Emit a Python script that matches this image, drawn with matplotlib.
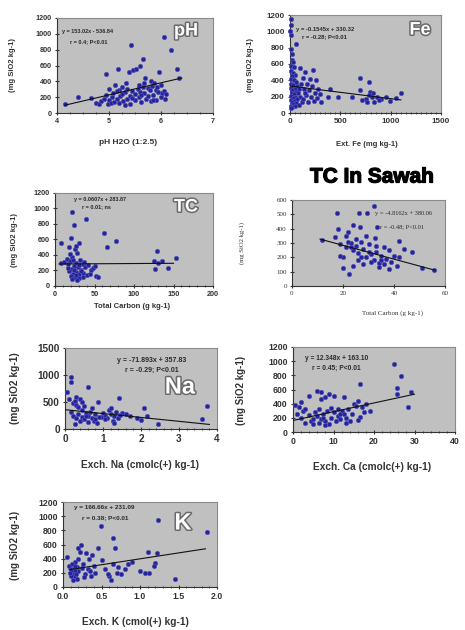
import matplotlib
matplotlib.use("Agg")
import matplotlib.pyplot as plt
import matplotlib.patheffects as pe
from matplotlib.ticker import MultipleLocator

W, H = 465, 630

# ---------------- data ----------------
ph_points = [(4.15,120),(4.4,200),(4.65,195),(4.75,130),(4.8,115),(4.85,150),(4.9,180),(4.95,490),(4.95,230),(4.98,110),
             (5.0,160),(5.0,300),(5.03,130),(5.05,200),(5.08,250),(5.1,140),(5.12,350),(5.15,180),(5.18,550),(5.2,290),
             (5.2,130),(5.22,210),(5.25,330),(5.27,150),(5.3,260),(5.3,100),(5.33,380),(5.35,180),(5.38,520),(5.4,220),
             (5.4,120),(5.42,860),(5.45,280),(5.47,540),(5.5,240),(5.5,160),(5.52,560),(5.55,300),(5.57,200),(5.6,600),
             (5.6,260),(5.62,140),(5.65,680),(5.65,330),(5.68,250),(5.7,440),(5.72,180),(5.75,320),(5.75,210),(5.78,290),
             (5.8,400),(5.8,150),(5.82,340),(5.85,230),(5.87,380),(5.9,170),(5.9,290),(5.95,260),(5.97,520),(6.0,350),
             (6.0,200),(6.02,250),(6.05,960),(6.05,280),(6.08,180),(6.1,240),(6.2,790),(6.3,560),(6.35,440),(5.58,350),
             (5.45,190),(5.25,240),(5.15,280),(5.35,300),(5.68,380),(5.85,170),(5.62,230),(5.92,330)]

fe_points = [(5,1150),(8,1080),(4,1000),(12,950),(60,850),(10,780),(20,720),(15,650),(30,620),(6,580),(40,560),(10,520),
             (25,490),(50,470),(18,450),(8,420),(35,400),(55,380),(12,360),(28,340),(70,330),(5,310),(45,300),(90,290),
             (15,280),(60,260),(20,250),(80,240),(35,230),(10,210),(50,200),(100,190),(25,180),(70,170),(8,160),(40,150),
             (120,140),(15,130),(60,120),(30,110),(85,100),(10,90),(50,80),(20,70),(5,60),(100,550),(150,500),(230,530),
             (130,430),(200,420),(260,400),(110,360),(170,350),(220,330),(280,300),(140,300),(190,280),(250,250),(300,230),
             (160,220),(210,200),(270,180),(130,170),(240,150),(180,140),(310,130),(150,250),(400,300),(480,200),(380,190),
             (620,190),(700,430),(700,280),(720,160),(750,170),(780,380),(790,260),(810,200),(830,140),(860,190),(900,170),
             (950,200),(990,150),(1050,180),(1100,250),(760,130),(780,220),(820,240),(880,160)]

tc_points = [(8,550),(7,300),(21,960),(24,790),(39,860),(62,680),(77,580),(66,500),(20,620),(18,500),(25,480),(30,560),
             (28,420),(22,380),(15,350),(19,320),(26,300),(32,330),(35,280),(16,280),(24,260),(29,240),(21,220),(33,210),
             (38,250),(18,190),(27,180),(23,160),(31,150),(36,170),(20,130),(25,120),(30,100),(22,90),(40,140),(45,200),
             (42,270),(48,230),(35,120),(28,80),(17,230),(23,330),(37,310),(44,160),(52,130),(55,110),(19,410),(27,520),
             (33,190),(26,140),(30,270),(24,210),(129,450),(153,360),(126,220),(143,230),(125,320),(136,320),(130,300),
             (50,260),(12,310)]

sawah_points = [(17.6,509),(32,558),(26.1,509),(29.6,509),(26.5,415),(33.3,415),(18.2,396),(23.9,426),(22,380),(17,345),
                (11.8,321),(41.8,314),(43.8,256),(47,237),(55.5,110),(51,125),(20,125),(22.2,85),(32.5,332),(19,290),
                (21,270),(23,300),(24,250),(25,280),(26,230),(27,310),(28,260),(29,200),(30,290),(31,220),(32,180),
                (33,240),(34,160),(35,210),(36,150),(37,190),(38,250),(39,170),(40,210),(41,140),(20,200),(22,310),
                (24,140),(26,180),(28,150),(30,240),(34,130),(36,270),(38,120),(27,200),(31,170),(25,330),(21,350),
                (19,210),(33,280),(29,350),(23,270),(35,180),(42,200)]

na_points = [(0.17,958),(0.15,870),(0.05,690),(0.6,782),(1.41,567),(2.07,393),(3.74,425),(3.6,185),(2.46,93),(2.16,247),
             (2.0,167),(0.87,506),(0.1,550),(0.2,480),(0.25,520),(0.3,450),(0.35,400),(0.4,560),(0.45,350),(0.5,420),
             (0.55,300),(0.15,320),(0.2,250),(0.3,200),(0.35,280),(0.4,150),(0.45,220),(0.5,180),(0.6,250),(0.65,320),
             (0.7,200),(0.75,150),(0.8,280),(0.85,120),(0.6,130),(0.25,100),(0.7,380),(0.55,240),(1.0,300),(1.05,250),
             (1.1,200),(1.15,350),(1.2,280),(1.25,150),(1.3,250),(1.35,320),(1.4,200),(1.5,300),(1.6,280),(1.7,250),
             (1.05,180),(1.2,380),(0.95,230),(1.3,120),(1.9,200),(0.3,600),(0.45,500),(0.9,220),(1.45,260),(0.8,190)]

ca_points = [(24.9,954),(26.7,790),(25.6,616),(25.7,532),(29.1,568),(28.5,357),(16.5,672),(3.9,511),(6,578),(6.8,560),
             (0.5,380),(1.5,350),(2.5,300),(3,330),(1,250),(2,200),(4,240),(4.5,150),(5,180),(5.5,280),(6,220),(6.5,130),
             (7,190),(7.5,250),(8,160),(8.5,300),(9,120),(9.5,200),(10,280),(10.5,150),(11,230),(11.5,180),(12,300),
             (12.5,260),(13,200),(13.5,320),(14,150),(14.5,260),(15,400),(15.5,370),(16,440),(16.5,210),(17,350),
             (17.5,280),(18,400),(19,300),(8,490),(9,540),(10,510),(7,470),(12.5,490),(3,130),(5,120),(6.5,330),(8,100),
             (11,320),(13,130),(16,170),(9.5,340),(7.5,200),(2,420),(11.5,250)]

k_points = [(0.49,860),(1.24,945),(1.87,780),(0.65,687),(0.68,546),(1.46,108),(1.1,490),(1.22,475),(1.2,338),(1.06,204),
            (1.12,200),(1.18,300),(0.05,420),(0.08,300),(0.1,250),(0.12,200),(0.14,180),(0.15,350),(0.16,150),(0.18,280),
            (0.2,230),(0.22,500),(0.24,600),(0.26,330),(0.28,180),(0.3,480),(0.32,250),(0.34,400),(0.36,150),(0.38,450),
            (0.4,300),(0.42,200),(0.45,550),(0.5,380),(0.55,250),(0.6,150),(0.62,100),(0.65,320),(0.7,200),(0.72,280),
            (0.75,190),(0.8,250),(0.85,320),(0.9,350),(0.1,150),(0.12,330),(0.14,260),(0.16,220),(0.18,120),(0.2,400),
            (0.13,100),(0.17,180),(0.11,230),(0.25,270),(0.15,290),(0.09,200),(0.35,220),(0.27,140),(0.19,550),(1.0,220),
            (0.58,180)]

# regression lines: slope, intercept, x range
ph_fit = (153.02, -536.84, 4.15, 6.4)
fe_fit = (-0.1545, 330.32, 0, 1100)
tc_fit = (0.0607, 283.87, 5, 150)
sawah_fit = (-4.8162, 380.06, 11, 56)
na_fit = (-71.893, 357.83, 0, 3.8)
ca_fit = (12.348, 163.10, 0, 30)
k_fit = (166.66, 231.09, 0.08, 1.85)

ph_eq = ["y = 153.02x - 536.84", "r = 0.4; P<0.01"]
fe_eq = ["y = -0.1545x + 330.32", "r = -0.28; P<0.01"]
tc_eq = ["y = 0.0607x + 283.87", "r = 0.01; ns"]
sawah_eq = ["y = -4.8162x + 380.06", "r = -0.48; P<0.01"]
na_eq = ["y = -71.893x + 357.83", "r = -0.29; P<0.01"]
ca_eq = ["y = 12.348x + 163.10", "r = 0.45; P<0.01"]
k_eq = ["y = 166.66x + 231.09", "r = 0.38; P<0.01"]

ylab = "(mg SiO2 kg-1)"

fig = plt.figure(figsize=(W/100, H/100), dpi=100)
fig.patch.set_facecolor("white")

def px(x, y):
    return x / W, 1 - y / H

def make_ax(x0, y0, x1, y1):
    return fig.add_axes([x0 / W, 1 - y1 / H, (x1 - x0) / W, (y1 - y0) / H])

BG = "#c0c0c0"
PT = "#24249a"
TXT = "#333333"

def panel(ax, pts, fit, xlim, xmaj, xmin, ylim, ymaj, tfs, family="Liberation Sans", weight="bold"):
    ax.set_facecolor(BG)
    xs = [p[0] for p in pts]
    ys = [p[1] for p in pts]
    ax.plot(xs, ys, "o", ms=3.1, mfc=PT, mec="#5050b8", mew=0.5, zorder=3, clip_on=False)
    s, b, xa, xb = fit
    ax.plot([xa, xb], [s * xa + b, s * xb + b], color="#111111", lw=0.8, zorder=4)
    ax.set_xlim(*xlim)
    ax.set_ylim(*ylim)
    ax.xaxis.set_major_locator(MultipleLocator(xmaj))
    if xmin:
        ax.xaxis.set_minor_locator(MultipleLocator(xmin))
    ax.yaxis.set_major_locator(MultipleLocator(ymaj))
    for sp in ax.spines.values():
        sp.set_color("#8a8a8a")
        sp.set_linewidth(0.8)
    ax.spines["left"].set_color("#333333")
    ax.spines["bottom"].set_color("#333333")
    ax.tick_params(axis="both", which="major", direction="inout", length=3.5, width=0.8,
                   labelsize=tfs, colors="#333333", pad=2)
    ax.tick_params(axis="x", which="minor", direction="inout", length=2, width=0.6, colors="#333333")
    for lab in ax.get_xticklabels() + ax.get_yticklabels():
        lab.set_fontfamily(family)
        lab.set_fontweight(weight)
        lab.set_color(TXT)

def eqtext(ax, lines, x, y, fs, dy, ha="left", family="Liberation Sans", weight="bold", x2=None):
    xa, ya = px(x, y)
    fig.text(xa, ya, lines[0], fontsize=fs, ha=ha, va="center", color="#2a2a2a",
             fontfamily=family, fontweight=weight)
    xb = xa if x2 is None else x2 / W
    fig.text(xb, ya - dy / H, lines[1], fontsize=fs, ha=ha, va="center", color="#2a2a2a",
             fontfamily=family, fontweight=weight)

outline = [pe.withStroke(linewidth=2.2, foreground="#6a6a6a")]

def tag(x, y, s, fs, stroke=True):
    xa, ya = px(x, y)
    fig.text(xa, ya, s, fontsize=fs, ha="center", va="center", color="white", fontweight="bold",
             fontfamily="Liberation Sans", path_effects=outline if stroke else None, zorder=10)

def xlabel(x, y, s, fs, family="Liberation Sans", weight="bold"):
    xa, ya = px(x, y)
    fig.text(xa, ya, s, fontsize=fs, ha="center", va="center", color=TXT, fontfamily=family, fontweight=weight)

def ylabel(x, y, s, fs, family="Liberation Sans", weight="bold"):
    xa, ya = px(x, y)
    fig.text(xa, ya, s, fontsize=fs, ha="center", va="center", color=TXT, rotation=90,
             fontfamily=family, fontweight=weight)

# ---- pH ----
ax1 = make_ax(57, 18, 213, 113)
panel(ax1, ph_points, ph_fit, (4, 7), 1, 0.25, (0, 1200), 200, 5.2)
eqtext(ax1, ph_eq, 62, 32, 4.0, 10, x2=70)
tag(186, 31, "pH", 13)
xlabel(128, 143, "pH H2O (1:2.5)", 6)
ylabel(13, 65, ylab, 5.5)

# ---- Fe ----
ax2 = make_ax(290, 15, 441, 113)
panel(ax2, fe_points, fe_fit, (0, 1500), 500, 50, (0, 1200), 200, 5.8)
eqtext(ax2, fe_eq, 296, 29, 4.2, 8, x2=302)
tag(420, 30, "Fe", 13)
xlabel(367, 145, "Ext. Fe (mg kg-1)", 5.5)
ylabel(250, 65, ylab, 5.5)

# ---- TC ----
ax3 = make_ax(55, 193, 213, 286)
panel(ax3, tc_points, tc_fit, (0, 200), 50, 10, (0, 1200), 200, 5.2)
eqtext(ax3, tc_eq, 74, 199, 4.0, 8, x2=82)
tag(186, 207, "TC", 13)
xlabel(132, 306, "Total Carbon (g kg-1)", 5.5)
ylabel(14, 240, ylab, 5.5)

# ---- TC in Sawah ----
fig.text(*px(372, 177), "TC In Sawah", fontsize=15, ha="center", va="center", color="black",
         fontweight="heavy", fontfamily="Liberation Sans",
         path_effects=[pe.Stroke(linewidth=0.9, foreground="black"), pe.Normal()])
ax4 = make_ax(292, 200, 445, 286)
panel(ax4, sawah_points, sawah_fit, (0, 60), 20, 0, (0, 600), 100, 5.0, family="Liberation Serif", weight="normal")
eqtext(ax4, sawah_eq, 375, 213, 4.6, 14, family="Liberation Serif", weight="normal", x2=380)
xlabel(392, 313, "Total Carbon (g kg-1)", 5.0, family="Liberation Serif", weight="normal")
ylabel(242, 243, ylab, 4.8, family="Liberation Serif", weight="normal")

# ---- Na ----
ax5 = make_ax(65, 348, 217, 429)
panel(ax5, na_points, na_fit, (0, 4), 1, 0.2, (0, 1500), 500, 7.2)
eqtext(ax5, na_eq, 152, 360, 5.0, 10, ha="center")
tag(180, 387, "Na", 17, stroke=True)
xlabel(140, 465, "Exch. Na (cmolc(+) kg-1)", 7.3)
ylabel(15, 388, ylab, 7.3)

# ---- Ca ----
ax6 = make_ax(293, 347, 455, 432)
panel(ax6, ca_points, ca_fit, (0, 40), 10, 2, (0, 1200), 200, 6.3)
eqtext(ax6, ca_eq, 305, 358, 4.8, 10, x2=312)
xlabel(372, 467, "Exch. Ca (cmolc(+) kg-1)", 7.3)
ylabel(241, 390, ylab, 7.0)

# ---- K ----
ax7 = make_ax(63, 502, 217, 587)
panel(ax7, k_points, k_fit, (0, 2), 0.5, 0.1, (0, 1200), 200, 6.3)
eqtext(ax7, k_eq, 74, 508, 4.6, 10, x2=82)
tag(183, 523, "K", 17)
xlabel(135, 622, "Exch. K (cmol(+) kg-1)", 7.3)
ylabel(15, 545, ylab, 7.0)

fig.savefig("out.png", dpi=100, facecolor="white")
